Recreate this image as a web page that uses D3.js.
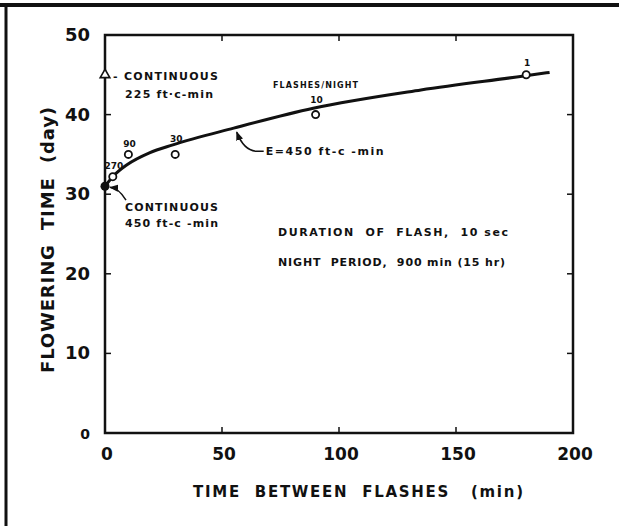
<!DOCTYPE html>
<html><head><meta charset="utf-8">
<script src="https://cdn.jsdelivr.net/npm/d3@7"></script>
<style>
html,body{margin:0;padding:0;background:#fff;}
svg{display:block;}
text{font-family:"DejaVu Sans",sans-serif;font-weight:bold;fill:#111;white-space:pre;}
</style></head>
<body>
<script>
// ---- data ----
const flashesPerNight = ["270", "90", "30", "10", "1"];
const timeBetween = [3.33, 10, 30, 90, 180];
const floweringTime = [32.2, 35, 35, 40, 45];
const curveTime = [0, 3.3, 9.4, 19, 29, 55, 89, 135, 179, 190];
const curveFlower = [31, 32.2, 33.7, 35.2, 36.2, 38.3, 40.8, 43.1, 44.85, 45.3];
const continuous450 = 31;
const continuous225 = 45;
const xTicks = [0, 50, 100, 150, 200];
const yTicks = [0, 10, 20, 30, 40, 50];

const W = 619, H = 526;
const svg = d3.select("body").append("svg").attr("width", W).attr("height", H);
const x = d3.scaleLinear().domain([0, 200]).range([105, 573]);
const y = d3.scaleLinear().domain([0, 50]).range([433, 35]);

// scan frame
svg.append("line").attr("x1", 0).attr("x2", W).attr("y1", 5).attr("y2", 5)
  .attr("stroke", "#111").attr("stroke-width", 4);
svg.append("line").attr("x1", 6).attr("x2", 6).attr("y1", 4).attr("y2", H)
  .attr("stroke", "#111").attr("stroke-width", 3);

// axes box
svg.append("rect").attr("x", x(0)).attr("y", y(50)).attr("width", x(200) - x(0)).attr("height", y(0) - y(50))
  .attr("fill", "none").attr("stroke", "#111").attr("stroke-width", 2.5);

const tickLen = 6;
const g = svg.append("g");
[50, 100, 150].forEach(v => {
  g.append("line").attr("x1", x(v)).attr("x2", x(v)).attr("y1", y(0)).attr("y2", y(0) - tickLen).attr("stroke", "#111").attr("stroke-width", 1.5);
  g.append("line").attr("x1", x(v)).attr("x2", x(v)).attr("y1", y(50)).attr("y2", y(50) + tickLen).attr("stroke", "#111").attr("stroke-width", 1.5);
});
[10, 20, 30, 40].forEach(v => {
  g.append("line").attr("x1", x(0)).attr("x2", x(0) + tickLen).attr("y1", y(v)).attr("y2", y(v)).attr("stroke", "#111").attr("stroke-width", 1.5);
  g.append("line").attr("x1", x(200)).attr("x2", x(200) - tickLen).attr("y1", y(v)).attr("y2", y(v)).attr("stroke", "#111").attr("stroke-width", 1.5);
});

// tick labels
svg.selectAll(".xt").data(xTicks).enter().append("text")
  .attr("x", d => x(d) + 2).attr("y", 460).attr("text-anchor", "middle")
  .attr("font-size", 17).text(d => d);
svg.selectAll(".yt").data(yTicks).enter().append("text")
  .attr("x", 90).attr("y", d => y(d) + 6).attr("text-anchor", "end")
  .attr("font-size", d => d === 0 ? 14 : 18).text(d => d);

// axis titles
svg.append("text").attr("x", 193).attr("y", 497).attr("font-size", 15)
  .attr("textLength", 330).attr("lengthAdjust", "spacing")
  .text("TIME  BETWEEN  FLASHES   (min)");
svg.append("text").attr("transform", "translate(54,373) rotate(-90)")
  .attr("font-size", 18).attr("textLength", 266).attr("lengthAdjust", "spacing")
  .text("FLOWERING  TIME  (day)");

// fitted curve
const pts = curveTime.map((t, i) => [x(t), y(curveFlower[i])]);
svg.append("path").attr("d", d3.line().curve(d3.curveMonotoneX)(pts))
  .attr("fill", "none").attr("stroke", "#111").attr("stroke-width", 3);

// data points
svg.selectAll(".pt").data(timeBetween).enter().append("circle")
  .attr("cx", d => x(d)).attr("cy", (d, i) => y(floweringTime[i])).attr("r", 3.6)
  .attr("fill", "#fff").attr("stroke", "#111").attr("stroke-width", 1.8);
const lblDy = [-8, -7, -12, -12, -9];
svg.selectAll(".pl").data(flashesPerNight).enter().append("text")
  .attr("x", (d, i) => x(timeBetween[i]) + 1).attr("y", (d, i) => y(floweringTime[i]) + lblDy[i])
  .attr("text-anchor", "middle").attr("font-size", 9).text(d => d);

// continuous markers
svg.append("circle").attr("cx", x(0)).attr("cy", y(continuous450)).attr("r", 4.5).attr("fill", "#111");
const tri = d3.symbol().type(d3.symbolTriangle).size(40);
svg.append("path").attr("d", tri()).attr("transform", `translate(${x(0)},${y(continuous225)})`)
  .attr("fill", "#fff").attr("stroke", "#111").attr("stroke-width", 1.6);

// arrow marker
svg.append("defs").append("marker").attr("id", "ah").attr("viewBox", "0 0 10 10")
  .attr("refX", 9).attr("refY", 5).attr("markerWidth", 6).attr("markerHeight", 6).attr("orient", "auto")
  .append("path").attr("d", "M0,1 L10,5 L0,9 Z").attr("fill", "#111");

// annotations
svg.append("text").attr("x", x(0) + 8).attr("y", y(continuous225) + 5).attr("font-size", 11)
  .attr("textLength", 105).attr("lengthAdjust", "spacing").text("- CONTINUOUS");
svg.append("text").attr("x", x(0) + 20).attr("y", y(continuous225) + 23).attr("font-size", 11)
  .attr("textLength", 88).attr("lengthAdjust", "spacing").text("225 ft·c-min");

const cx0 = x(0), cy0 = y(continuous450);
svg.append("path")
  .attr("d", `M${cx0 + 21},${cy0 + 14} Q${cx0 + 14},${cy0 + 2} ${cx0 + 5},${cy0 + 1}`)
  .attr("fill", "none").attr("stroke", "#111").attr("stroke-width", 1.5).attr("marker-end", "url(#ah)");
svg.append("text").attr("x", cx0 + 20).attr("y", cy0 + 25).attr("font-size", 11)
  .attr("textLength", 93).attr("lengthAdjust", "spacing").text("CONTINUOUS");
svg.append("text").attr("x", cx0 + 20).attr("y", cy0 + 41).attr("font-size", 11)
  .attr("textLength", 93).attr("lengthAdjust", "spacing").text("450 ft-c -min");

const ax = x(55), ay = y(38.3);
svg.append("path")
  .attr("d", `M${ax + 30},${ay + 23} L${ax + 22},${ay + 23} Q${ax + 10},${ay + 22} ${ax + 3},${ay + 4}`)
  .attr("fill", "none").attr("stroke", "#111").attr("stroke-width", 1.5).attr("marker-end", "url(#ah)");
svg.append("text").attr("x", ax + 32).attr("y", ay + 27).attr("font-size", 11)
  .attr("textLength", 118).attr("lengthAdjust", "spacing").text("E=450 ft-c -min");

svg.append("text").attr("x", 273).attr("y", 88).attr("font-size", 8)
  .attr("textLength", 85).attr("lengthAdjust", "spacing").text("FLASHES/NIGHT");

svg.append("text").attr("x", 278).attr("y", 236).attr("font-size", 11)
  .attr("textLength", 230).attr("lengthAdjust", "spacing").text("DURATION  OF  FLASH,  10 sec");
svg.append("text").attr("x", 278).attr("y", 266).attr("font-size", 11)
  .attr("textLength", 227).attr("lengthAdjust", "spacing").text("NIGHT  PERIOD,  900 min (15 hr)");
</script>
</body></html>
